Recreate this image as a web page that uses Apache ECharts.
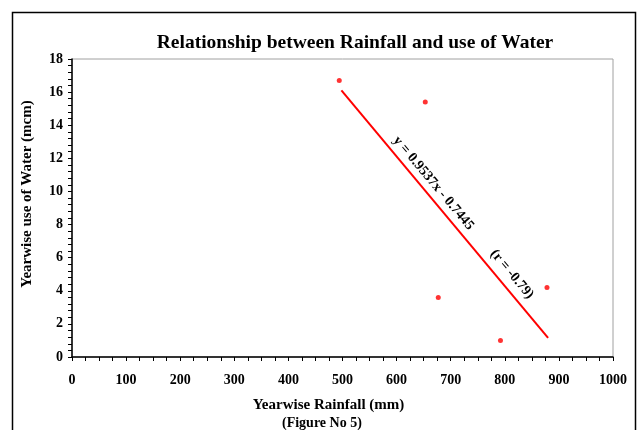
<!DOCTYPE html>
<html>
<head>
<meta charset="utf-8">
<script src="https://cdn.jsdelivr.net/npm/echarts@6/dist/echarts.min.js"></script>
<style>
  html, body { margin: 0; padding: 0; background: #fff; }
  #chart { width: 638px; height: 430px; }
</style>
</head>
<body>
<div id="chart"></div>
<script>
// rainfall (mm) vs water use (mcm)
var rainfall = [494, 653, 677, 792, 878];
var waterUse = [16.7, 15.4, 3.6, 1.0, 4.2];

// end points of the drawn trend line
var trendX = [498, 880];
var trendY = [16.1, 1.15];

var FONT = "'Liberation Serif', 'Times New Roman', serif";

var chart = echarts.init(document.getElementById("chart"));

var points = rainfall.map(function (x, i) { return [x, waterUse[i]]; });
var trend = trendX.map(function (x, i) { return [x, trendY[i]]; });

var noteStyle = {
  show: true,
  color: "#000",
  fontFamily: FONT,
  fontWeight: "bold",
  fontSize: 14,
  rotate: -50,
  position: "inside"
};

chart.setOption({
  animation: false,
  title: {
    text: "Relationship between Rainfall and use of Water",
    left: 350,
    top: 28,
    textAlign: "center",
    textStyle: {
      fontFamily: FONT,
      fontWeight: "bold",
      fontSize: 19.5,
      color: "#000"
    }
  },
  graphic: [
    {
      type: "rect",
      shape: { x: 12.5, y: 12.5, width: 623, height: 440 },
      style: { fill: "none", stroke: "#000", lineWidth: 1.5 },
      silent: true
    },
    {
      type: "text",
      left: 282,
      top: 416,
      style: {
        text: "(Figure No 5)",
        fill: "#000",
        font: "bold 14px " + FONT
      }
    }
  ],
  grid: {
    left: 72,
    right: 25,
    top: 59,
    bottom: 73,
    show: true,
    borderColor: "#a0a0a0",
    borderWidth: 1
  },
  xAxis: {
    type: "value",
    min: 0,
    max: 1000,
    interval: 100,
    name: "Yearwise Rainfall (mm)",
    nameLocation: "middle",
    nameGap: 41,
    nameTextStyle: {
      fontFamily: FONT,
      fontWeight: "bold",
      fontSize: 15,
      color: "#000",
      padding: [0, 28, 0, 0]
    },
    axisLine: { lineStyle: { color: "#000", width: 1.5 } },
    axisTick: { inside: false, length: 4, lineStyle: { color: "#000" } },
    minorTick: { show: true, splitNumber: 4, length: 4, lineStyle: { color: "#000" } },
    axisLabel: {
      margin: 16,
      color: "#000",
      fontFamily: FONT,
      fontWeight: "bold",
      fontSize: 14,
      formatter: function (v) { return String(v); }
    },
    splitLine: { show: false }
  },
  yAxis: {
    type: "value",
    min: 0,
    max: 18,
    interval: 2,
    name: "Yearwise use of Water (mcm)",
    nameLocation: "middle",
    nameGap: 37,
    nameTextStyle: {
      fontFamily: FONT,
      fontWeight: "bold",
      fontSize: 15,
      color: "#000",
      padding: [0, 0, 0, 28]
    },
    axisLine: { lineStyle: { color: "#000", width: 1.5 } },
    axisTick: { inside: false, length: 4, lineStyle: { color: "#000" } },
    minorTick: { show: true, splitNumber: 5, length: 4, lineStyle: { color: "#000" } },
    axisLabel: {
      margin: 9,
      color: "#000",
      fontFamily: FONT,
      fontWeight: "bold",
      fontSize: 14
    },
    splitLine: { show: false }
  },
  series: [
    {
      name: "trend",
      type: "line",
      data: trend,
      symbol: "none",
      lineStyle: { color: "#f00", width: 2 },
      markPoint: {
        symbol: "circle",
        symbolSize: 1,
        itemStyle: { color: "rgba(0,0,0,0)" },
        data: [
          { coord: [668, 10.5], label: Object.assign({ formatter: "y = 0.9537x - 0.7445" }, noteStyle) },
          { coord: [813, 5.0], label: Object.assign({ formatter: "(r = -0.79)" }, noteStyle) }
        ]
      }
    },
    {
      name: "observed",
      type: "scatter",
      data: points,
      symbol: "circle",
      symbolSize: 5,
      itemStyle: { color: "#f00" }
    }
  ]
});
</script>
</body>
</html>
